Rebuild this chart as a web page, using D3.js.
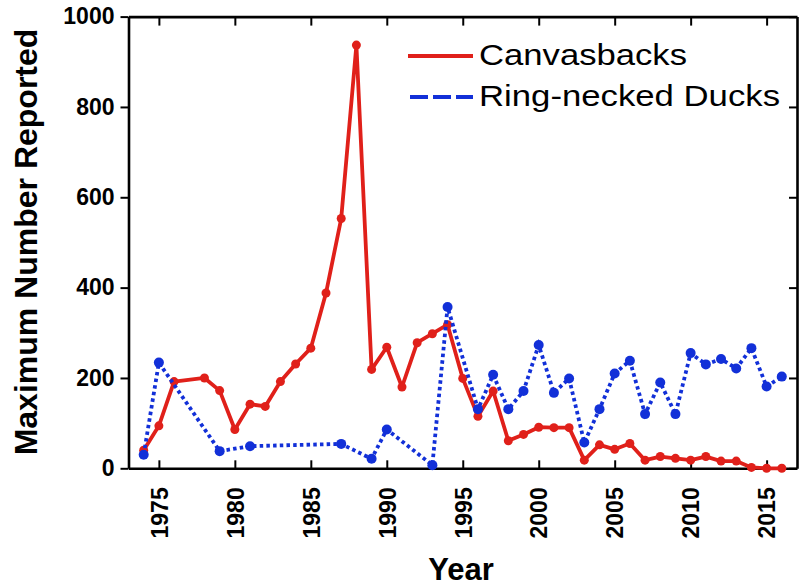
<!DOCTYPE html>
<html>
<head>
<meta charset="utf-8">
<script src="https://cdn.jsdelivr.net/npm/d3@7"></script>
<style>
  html, body { margin: 0; padding: 0; background: #fff; }
  svg { display: block; font-family: "Liberation Sans", Arial, Helvetica, sans-serif; }
</style>
</head>
<body>
<svg id="chart" width="806" height="586"></svg>
<script>
// Canvasback counts by year (1977 not reported)
const canvasYears = [1974, 1975, 1976, 1978, 1979, 1980, 1981, 1982, 1983, 1984, 1985, 1986, 1987, 1988,
  1989, 1990, 1991, 1992, 1993, 1994, 1995, 1996, 1997, 1998, 1999, 2000, 2001, 2002, 2003, 2004,
  2005, 2006, 2007, 2008, 2009, 2010, 2011, 2012, 2013, 2014, 2015, 2016];
const canvasValues = [40, 94, 192, 200, 172, 86, 142, 137, 192, 231, 266, 388, 553, 937,
  219, 268, 180, 278, 298, 318, 199, 115, 171, 61, 75, 91, 90, 90, 18, 52,
  42, 55, 18, 26, 22, 18, 26, 16, 16, 2, 0, 0];

// Ring-necked Duck counts by year (years with no report are skipped)
const ringYears = [1974, 1975, 1979, 1981, 1987, 1989, 1990, 1993, 1994, 1996, 1997, 1998, 1999, 2000,
  2001, 2002, 2003, 2004, 2005, 2006, 2007, 2008, 2009, 2010, 2011, 2012, 2013, 2014, 2015, 2016];
const ringValues = [30, 234, 38, 49, 54, 21, 86, 7, 357, 131, 207, 131, 171, 273,
  167, 199, 57, 131, 210, 238, 120, 190, 120, 255, 230, 242, 221, 266, 181, 203];

const xTicks = [1975, 1980, 1985, 1990, 1995, 2000, 2005, 2010, 2015];
const yTicks = [0, 200, 400, 600, 800, 1000];
const seriesNames = ["Canvasbacks", "Ring-necked Ducks"];

const RED = "#e0201a";
const BLUE = "#1230d8";

const svg = d3.select("#chart");
const plotLeft = 128.5, plotRight = 797, plotTop = 16.6, plotBottom = 468.3;

const x = d3.scaleLinear().domain([1973, 2017]).range([plotLeft, plotRight]);
const y = d3.scaleLinear().domain([0, 1000]).range([plotBottom, plotTop]);

const canvas = canvasYears.map((yr, i) => ({ year: yr, value: canvasValues[i] }));
const ring = ringYears.map((yr, i) => ({ year: yr, value: ringValues[i] }));

const line = d3.line().x(d => x(d.year)).y(d => y(d.value));

// Axes: left ticks point outward, the other three sides point inward
function styleAxis(g) {
  g.selectAll("path.domain").attr("stroke", "#000").attr("stroke-width", 2.6);
  g.selectAll(".tick line").attr("stroke", "#000").attr("stroke-width", 2);
}

const gLeft = svg.append("g").attr("transform", `translate(${plotLeft},0)`)
  .call(d3.axisLeft(y).tickValues(yTicks).tickSizeInner(8).tickSizeOuter(0).tickPadding(6).tickFormat(d3.format("d")));
styleAxis(gLeft);
gLeft.selectAll(".tick text").attr("font-size", 23).attr("font-weight", "bold").attr("fill", "#000")
  .attr("font-family", "Liberation Sans, Arial, sans-serif");

const gBottom = svg.append("g").attr("transform", `translate(0,${plotBottom})`)
  .call(d3.axisBottom(x).tickValues(xTicks).tickSizeInner(-8).tickSizeOuter(0).tickFormat(d3.format("d")));
styleAxis(gBottom);
gBottom.selectAll(".tick text")
  .attr("font-size", 23).attr("font-weight", "bold").attr("fill", "#000")
  .attr("font-family", "Liberation Sans, Arial, sans-serif")
  .attr("text-anchor", "end")
  .attr("transform", "rotate(-90)")
  .attr("x", -19).attr("y", 0).attr("dy", "0.36em");

const gTop = svg.append("g").attr("transform", `translate(0,${plotTop})`)
  .call(d3.axisTop(x).tickValues(xTicks).tickSizeInner(-9).tickSizeOuter(0).tickFormat(""));
styleAxis(gTop);

const gRight = svg.append("g").attr("transform", `translate(${plotRight},0)`)
  .call(d3.axisRight(y).tickValues(yTicks).tickSizeInner(-8).tickSizeOuter(0).tickFormat(""));
styleAxis(gRight);

// Canvasbacks: solid red line with dots
svg.append("path").datum(canvas)
  .attr("d", line).attr("fill", "none")
  .attr("stroke", RED).attr("stroke-width", 3.8).attr("stroke-linejoin", "round");
svg.append("g").selectAll("circle").data(canvas).join("circle")
  .attr("cx", d => x(d.year)).attr("cy", d => y(d.value)).attr("r", 4.5).attr("fill", RED);

// Ring-necked Ducks: dotted blue line with dots
svg.append("path").datum(ring)
  .attr("d", line).attr("fill", "none")
  .attr("stroke", BLUE).attr("stroke-width", 3.8).attr("stroke-dasharray", "3.5,3.2");
svg.append("g").selectAll("circle").data(ring).join("circle")
  .attr("cx", d => x(d.year)).attr("cy", d => y(d.value)).attr("r", 5).attr("fill", BLUE);

// Legend
const legend = svg.append("g");
legend.append("line").attr("x1", 408).attr("x2", 473).attr("y1", 56).attr("y2", 56)
  .attr("stroke", RED).attr("stroke-width", 4);
legend.append("line").attr("x1", 410).attr("x2", 473).attr("y1", 97).attr("y2", 97)
  .attr("stroke", BLUE).attr("stroke-width", 4).attr("stroke-dasharray", "18,5");
legend.append("text").attr("x", 479).attr("y", 65).attr("font-size", 30)
  .attr("textLength", 208).attr("lengthAdjust", "spacingAndGlyphs").text(seriesNames[0]);
legend.append("text").attr("x", 479).attr("y", 106).attr("font-size", 30)
  .attr("textLength", 301).attr("lengthAdjust", "spacingAndGlyphs").text(seriesNames[1]);

// Axis titles
svg.append("text").attr("transform", "translate(37,242) rotate(-90)")
  .attr("text-anchor", "middle").attr("font-size", 32).attr("font-weight", "bold")
  .text("Maximum Number Reported");
svg.append("text").attr("x", 461).attr("y", 580)
  .attr("text-anchor", "middle").attr("font-size", 31).attr("font-weight", "bold")
  .text("Year");
</script>
</body>
</html>
